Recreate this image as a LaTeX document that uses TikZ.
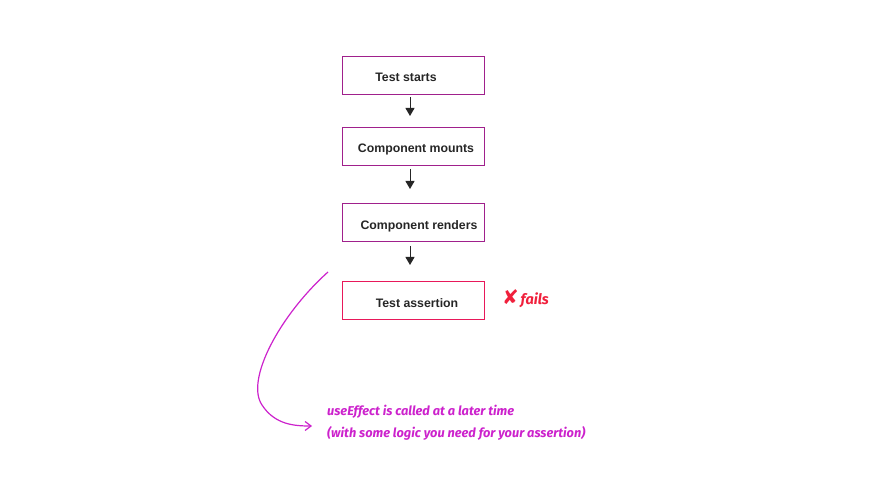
\documentclass[tikz,border=0pt]{standalone}
\usepackage{fontspec}
\setmainfont{Liberation Sans}
\newfontfamily\handfont{Fira Sans}
\newfontfamily\symfont{DejaVu Sans}
\usetikzlibrary{arrows.meta}
\definecolor{boxpurple}{HTML}{A0208C}
\definecolor{boxred}{HTML}{E8185A}
\definecolor{mag}{HTML}{CC22CC}
\definecolor{failred}{HTML}{F0203C}
\newcommand{\boxtext}[2]{\raisebox{-6.5pt}[0pt][0pt]{\hspace*{#1}#2}}
\begin{document}
\begin{tikzpicture}[x=1pt,y=-1pt,
  stepbox/.style={draw=boxpurple, line width=0.8pt, minimum width=142pt, minimum height=38pt, inner sep=0pt, font=\fontsize{12.3}{14}\selectfont\bfseries, text=black!85},
  flowarrow/.style={-{Triangle[length=8pt,width=9pt]}, draw=black!85, line width=1pt},
  hand/.style={font=\handfont\fontsize{12.8}{14}\selectfont\bfseries\itshape, text=mag, anchor=west, inner sep=0pt}]
\useasboundingbox (0,0) rectangle (880,478);
\node[stepbox] (b1) at (413,75) {\boxtext{-14pt}{Test starts}};
\node[stepbox] (b2) at (413,146.5) {\boxtext{6pt}{Component mounts}};
\node[stepbox] (b3) at (413,222.5) {\boxtext{12pt}{Component renders}};
\node[stepbox, draw=boxred] (b4) at (413,300.5) {\boxtext{8pt}{Test assertion}};
\coordinate (a1s) at (410,97); \coordinate (a1e) at (410,116);
\coordinate (a2s) at (410,169); \coordinate (a2e) at (410,189);
\coordinate (a3s) at (410,246); \coordinate (a3e) at (410,265);
\draw[flowarrow] (a1s) -- (a1e);
\draw[flowarrow] (a2s) -- (a2e);
\draw[flowarrow] (a3s) -- (a3e);
\node[anchor=west, inner sep=0pt, text=failred] (fail) at (502,299) {{\symfont\fontsize{20}{20}\selectfont ✘}\,{\handfont\fontsize{14.5}{15}\selectfont\bfseries\itshape fails}};
\coordinate (cs) at (328,272);
\coordinate (ce) at (312,426);
\draw[mag, line width=1.2pt, -{Straight Barb[length=6pt,width=9pt]}] (cs) .. controls (280,315) and (245,380) .. (262,405) .. controls (275,425) and (295,426) .. (ce);
\node[hand] (t1) at (327,412) {useEffect is called at a later time};
\node[hand] (t2) at (327,433) {(with some logic you need for your assertion)};
\end{tikzpicture}
\end{document}
